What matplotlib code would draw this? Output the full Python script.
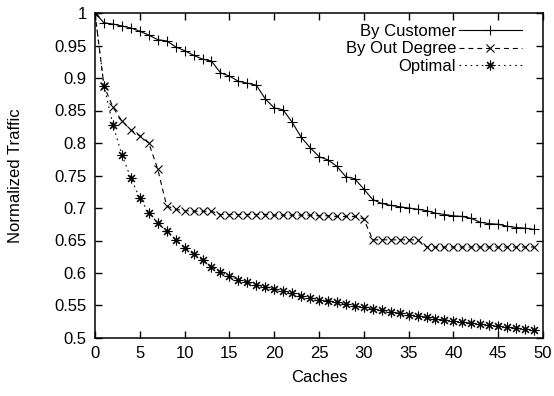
import matplotlib
matplotlib.use("Agg")
import matplotlib.pyplot as plt
import numpy as np

plt.rcParams['font.family'] = ['Liberation Sans', 'DejaVu Sans']

caches = list(range(50))

by_customer = [1.0, 0.985, 0.983, 0.980, 0.977, 0.972, 0.966, 0.959, 0.957, 0.948,
               0.942, 0.935, 0.929, 0.926, 0.908, 0.903, 0.895, 0.892, 0.889, 0.868,
               0.854, 0.851, 0.832, 0.809, 0.793, 0.779, 0.774, 0.764, 0.748, 0.745,
               0.729, 0.713, 0.707, 0.704, 0.702, 0.700, 0.698, 0.696, 0.692, 0.690,
               0.688, 0.687, 0.684, 0.678, 0.676, 0.675, 0.672, 0.670, 0.669, 0.667]

by_out_degree = [1.0, 0.888, 0.855, 0.834, 0.820, 0.811, 0.800, 0.760, 0.703, 0.698,
                 0.696, 0.695, 0.695, 0.695, 0.690, 0.690, 0.690, 0.690, 0.690, 0.690,
                 0.689, 0.689, 0.689, 0.689, 0.689, 0.688, 0.688, 0.687, 0.687, 0.687,
                 0.683, 0.651, 0.651, 0.651, 0.651, 0.651, 0.651, 0.640, 0.640, 0.640,
                 0.640, 0.640, 0.640, 0.640, 0.640, 0.640, 0.640, 0.640, 0.640, 0.640]

optimal = [1.0, 0.888, 0.828, 0.782, 0.746, 0.715, 0.693, 0.677, 0.664, 0.651,
           0.639, 0.629, 0.620, 0.610, 0.602, 0.595, 0.590, 0.586, 0.582, 0.578,
           0.575, 0.572, 0.569, 0.565, 0.562, 0.559, 0.557, 0.555, 0.552, 0.549,
           0.547, 0.545, 0.543, 0.540, 0.538, 0.536, 0.534, 0.532, 0.530, 0.528,
           0.526, 0.524, 0.523, 0.521, 0.520, 0.518, 0.517, 0.515, 0.514, 0.512]

series_labels = ["By Customer", "By Out Degree", "Optimal"]
x_ticks = [0, 5, 10, 15, 20, 25, 30, 35, 40, 45, 50]
y_ticks = [0.5, 0.55, 0.6, 0.65, 0.7, 0.75, 0.8, 0.85, 0.9, 0.95, 1.0]
y_tick_labels = ["0.5", "0.55", "0.6", "0.65", "0.7", "0.75", "0.8", "0.85", "0.9", "0.95", "1"]

fig = plt.figure(figsize=(5.54, 3.96), dpi=100)
ax = fig.add_axes([95/554, 1-338/396, (543-95)/554, (338-13)/396])

lw = 0.8
ax.plot(caches, by_customer, color='black', lw=lw, linestyle='-',
        marker='+', markersize=7, markeredgewidth=0.8, label=series_labels[0])
ax.plot(caches, by_out_degree, color='black', lw=lw, linestyle=(0, (4.5, 3.5)),
        marker='x', markersize=6, markeredgewidth=0.8, label=series_labels[1])
ax.plot(caches, optimal, color='black', lw=lw, linestyle=(0, (1.5, 3.5)),
        marker=(8, 2, 0), markersize=7, markeredgewidth=0.8, label=series_labels[2])

fs = 12
ax.set_xlim(0, 50)
ax.set_ylim(0.5, 1.0)
ax.set_xticks(x_ticks)
ax.set_xticklabels([str(t) for t in x_ticks])
ax.set_yticks(y_ticks)
ax.set_yticklabels(y_tick_labels)
ax.tick_params(direction='in', length=5, width=1.0, top=True, right=True,
               labelsize=fs, pad=6)
for s in ax.spines.values():
    s.set_linewidth(1.1)

ax.set_xlabel("Caches", fontsize=fs)
ax.set_ylabel("Normalized Traffic", fontsize=fs)
ax.xaxis.set_label_coords(0.5, -(370 - 338) / 325)
ax.yaxis.set_label_coords((23 - 95) / 448, 0.5)

leg = ax.legend(loc='upper right', bbox_to_anchor=(1 - 21/448, 1 - 11/325),
                frameon=False, markerfirst=False, fontsize=fs,
                handlelength=3.8, handletextpad=0.15, labelspacing=0.15,
                borderpad=0, borderaxespad=0)

fig.savefig("out.png", dpi=100)
